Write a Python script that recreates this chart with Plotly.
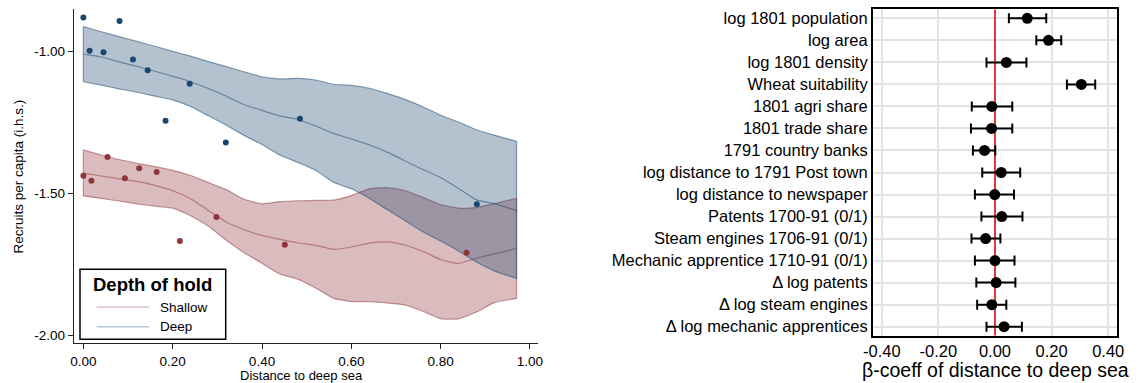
import plotly.graph_objects as go

W, H = 1140, 383
FONT = "Liberation Sans, Arial, sans-serif"

# ---- Left panel: recruits per capita vs distance to deep sea ----
grid_x = [0.00, 0.04, 0.08, 0.12, 0.16, 0.20, 0.24, 0.28, 0.32, 0.36, 0.40, 0.44,
          0.48, 0.52, 0.56, 0.60, 0.64, 0.68, 0.72, 0.76, 0.80, 0.84, 0.88, 0.92, 0.97]

deep_upper = [-0.912, -0.930, -0.947, -0.964, -0.981, -0.999, -1.016, -1.035, -1.053,
              -1.071, -1.089, -1.096, -1.094, -1.100, -1.115, -1.119, -1.129, -1.147,
              -1.168, -1.194, -1.224, -1.248, -1.275, -1.294, -1.316]
deep_fit = [-1.009, -1.019, -1.036, -1.052, -1.069, -1.087, -1.106, -1.130, -1.157,
            -1.187, -1.207, -1.226, -1.239, -1.262, -1.288, -1.307, -1.328, -1.354,
            -1.384, -1.415, -1.443, -1.482, -1.522, -1.535, -1.560]
deep_lower = [-1.106, -1.118, -1.131, -1.143, -1.157, -1.170, -1.193, -1.226, -1.259,
              -1.295, -1.327, -1.364, -1.390, -1.418, -1.460, -1.483, -1.516, -1.556,
              -1.595, -1.634, -1.667, -1.702, -1.741, -1.772, -1.799]

shallow_upper = [-1.346, -1.364, -1.380, -1.393, -1.405, -1.418, -1.436, -1.461, -1.486,
                 -1.520, -1.536, -1.528, -1.525, -1.524, -1.523, -1.507, -1.483, -1.479,
                 -1.489, -1.513, -1.539, -1.551, -1.549, -1.535, -1.517]
shallow_fit = [-1.428, -1.438, -1.448, -1.457, -1.471, -1.490, -1.518, -1.559, -1.600,
               -1.627, -1.647, -1.661, -1.673, -1.682, -1.696, -1.688, -1.674, -1.670,
               -1.681, -1.703, -1.732, -1.746, -1.727, -1.712, -1.693]
shallow_lower = [-1.508, -1.517, -1.526, -1.536, -1.544, -1.551, -1.578, -1.615, -1.664,
                 -1.708, -1.745, -1.783, -1.801, -1.832, -1.868, -1.880, -1.880, -1.885,
                 -1.892, -1.914, -1.940, -1.941, -1.917, -1.884, -1.869]

deep_x = [0.000, 0.081, 0.014, 0.045, 0.111, 0.144, 0.238, 0.184, 0.319, 0.485, 0.881]
deep_y = [-0.880, -0.892, -0.997, -1.002, -1.028, -1.066, -1.113, -1.243, -1.320, -1.236, -1.537]
shallow_x = [0.000, 0.018, 0.054, 0.093, 0.125, 0.164, 0.216, 0.298, 0.451, 0.858]
shallow_y = [-1.437, -1.455, -1.371, -1.446, -1.411, -1.424, -1.667, -1.582, -1.680, -1.708]

x_ticks = [0.0, 0.2, 0.4, 0.6, 0.8, 1.0]
y_ticks = [-1.0, -1.5, -2.0]

# ---- Right panel: balance coefficients ----
covariates = ["log 1801 population", "log area", "log 1801 density", "Wheat suitability",
              "1801 agri share", "1801 trade share", "1791 country banks",
              "log distance to 1791 Post town", "log distance to newspaper",
              "Patents 1700-91 (0/1)", "Steam engines 1706-91 (0/1)",
              "Mechanic apprentice 1710-91 (0/1)", "Δ log patents",
              "Δ log steam engines", "Δ log mechanic apprentices"]
coef = [0.114, 0.189, 0.040, 0.305, -0.011, -0.012, -0.037, 0.022, -0.001,
        0.024, -0.033, 0.000, 0.004, -0.011, 0.032]
ci_lo = [0.049, 0.146, -0.030, 0.254, -0.082, -0.085, -0.078, -0.045, -0.071,
         -0.048, -0.083, -0.071, -0.066, -0.063, -0.030]
ci_hi = [0.181, 0.234, 0.111, 0.354, 0.061, 0.061, 0.001, 0.089, 0.067,
         0.097, 0.019, 0.069, 0.072, 0.040, 0.095]
beta_ticks = [-0.4, -0.2, 0.0, 0.2, 0.4]

NAVY = (26, 71, 111)
MAROON = (144, 53, 59)


def rgba(c, a):
    return f"rgba({c[0]},{c[1]},{c[2]},{a})"


def px_x(v):
    return v / W


def px_y(v):
    return 1 - v / H


fig = go.Figure()


def add_band(lower, fit, upper, col):
    edge = dict(color=rgba(col, 0.5), width=1.2, shape="spline", smoothing=0.5)
    fig.add_trace(go.Scatter(x=grid_x, y=upper, mode="lines", line=edge,
                             hoverinfo="skip", xaxis="x", yaxis="y"))
    fig.add_trace(go.Scatter(x=grid_x, y=lower, mode="lines", line=edge,
                             fill="tonexty", fillcolor=rgba(col, 0.33),
                             hoverinfo="skip", xaxis="x", yaxis="y"))
    # closing edges at both ends of the band
    fig.add_trace(go.Scatter(
        x=[grid_x[0], grid_x[0], None, grid_x[-1], grid_x[-1]],
        y=[lower[0], upper[0], None, lower[-1], upper[-1]],
        mode="lines", line=dict(color=rgba(col, 0.5), width=1.2),
        hoverinfo="skip", xaxis="x", yaxis="y"))
    fig.add_trace(go.Scatter(x=grid_x, y=fit, mode="lines", line=edge,
                             xaxis="x", yaxis="y"))


add_band(shallow_lower, shallow_fit, shallow_upper, MAROON)
add_band(deep_lower, deep_fit, deep_upper, NAVY)

fig.add_trace(go.Scatter(x=shallow_x, y=shallow_y, mode="markers",
                         marker=dict(color=rgba(MAROON, 1), size=6),
                         xaxis="x", yaxis="y"))
fig.add_trace(go.Scatter(x=deep_x, y=deep_y, mode="markers",
                         marker=dict(color=rgba(NAVY, 1), size=6),
                         xaxis="x", yaxis="y"))

# coefficient plot: one row per covariate, first covariate on top
rows = list(range(len(covariates)))
row_range = [len(covariates) - 0.59, -0.41]

# zero reference line spanning the whole panel, drawn beneath the estimates
fig.add_trace(go.Scatter(x=[0, 0], y=row_range, mode="lines",
                         line=dict(color="#e00000", width=1.5),
                         hoverinfo="skip", xaxis="x2", yaxis="y2"))

fig.add_trace(go.Scatter(
    x=coef, y=rows, mode="markers",
    marker=dict(color="black", size=11),
    error_x=dict(type="data", symmetric=False,
                 array=[h - c for h, c in zip(ci_hi, coef)],
                 arrayminus=[c - l for c, l in zip(coef, ci_lo)],
                 color="black", thickness=2, width=5),
    xaxis="x2", yaxis="y2"))

axis_font = dict(family=FONT, size=13.5, color="black")
right_font = dict(family=FONT, size=16.5, color="black")

fig.update_layout(
    template="none",
    width=W, height=H, autosize=False,
    margin=dict(l=0, r=0, t=0, b=0, pad=0),
    paper_bgcolor="white", plot_bgcolor="white",
    font=dict(family=FONT, color="black"),
    showlegend=False,
    xaxis=dict(domain=[px_x(74), px_x(538)], range=[-0.021, 1.018],
               tickvals=x_ticks, ticktext=[f"{v:.2f}" for v in x_ticks],
               ticks="outside", ticklen=5, tickwidth=1.2, tickcolor="#222",
               showline=True, linecolor="#222", linewidth=1.3, automargin=False,
               showgrid=False, zeroline=False, tickfont=axis_font, anchor="y"),
    yaxis=dict(domain=[px_y(343.3), px_y(9.3)], range=[-2.027, -0.851],
               tickvals=y_ticks, ticktext=[f"{v:.2f}" for v in y_ticks],
               ticks="outside", ticklen=5, tickwidth=1.2, tickcolor="#222",
               showline=True, linecolor="#222", linewidth=1.3, automargin=False,
               showgrid=False, zeroline=False, tickfont=axis_font, anchor="x"),
    xaxis2=dict(domain=[px_x(872.7), px_x(1117.3)], range=[-0.432, 0.432],
                tickvals=beta_ticks, ticktext=[f"{v:.2f}" for v in beta_ticks],
                ticks="", showline=True, mirror=True, linecolor="black", linewidth=1.5,
                showgrid=True, gridcolor="#e3e3e3", gridwidth=1.5, zeroline=False,
                automargin=False, tickfont=right_font, anchor="y2"),
    yaxis2=dict(domain=[px_y(335.7), px_y(9.3)], range=row_range,
                tickvals=rows, ticktext=covariates, ticks="",
                showline=True, mirror=True, linecolor="black", linewidth=1.5,
                showgrid=True, gridcolor="#e3e3e3", gridwidth=1.5, zeroline=False,
                automargin=False, tickfont=right_font, anchor="x2"),
)

shapes = [
    # legend box for the left panel
    dict(type="rect", xref="paper", yref="paper",
         x0=px_x(80), x1=px_x(225.7), y0=px_y(339.3), y1=px_y(269.3),
         line=dict(color="black", width=1.5), fillcolor="white", layer="above"),
]
for yy, col in [(307, MAROON), (326.7, NAVY)]:
    shapes.append(dict(type="line", xref="paper", yref="paper",
                       x0=px_x(96.7), x1=px_x(149), y0=px_y(yy), y1=px_y(yy),
                       line=dict(color=rgba(col, 0.3), width=1.5), layer="above"))
fig.update_layout(shapes=shapes)

annotations = [
    dict(text="<b>Depth of hold</b>", x=px_x(152.8), y=px_y(284.5),
         xanchor="center", yanchor="middle", font=dict(family=FONT, size=18.5)),
    dict(text="Shallow", x=px_x(158), y=px_y(307), xanchor="left", yanchor="middle",
         font=dict(family=FONT, size=13.5)),
    dict(text="Deep", x=px_x(158), y=px_y(326.7), xanchor="left", yanchor="middle",
         font=dict(family=FONT, size=13.5)),
    dict(text="Recruits per capita (i.h.s.)", x=px_x(18), y=px_y(176.5), textangle=-90,
         xanchor="center", yanchor="middle", font=dict(family=FONT, size=13.5)),
    dict(text="Distance to deep sea", x=px_x(301), y=px_y(375.5),
         xanchor="center", yanchor="middle", font=dict(family=FONT, size=13)),
    dict(text="β-coeff of distance to deep sea", x=px_x(995.3), y=px_y(370),
         xanchor="center", yanchor="middle", font=dict(family=FONT, size=19.5)),
]
for a in annotations:
    a.update(xref="paper", yref="paper", showarrow=False)
fig.update_layout(annotations=annotations)

fig.write_html("out.html")
